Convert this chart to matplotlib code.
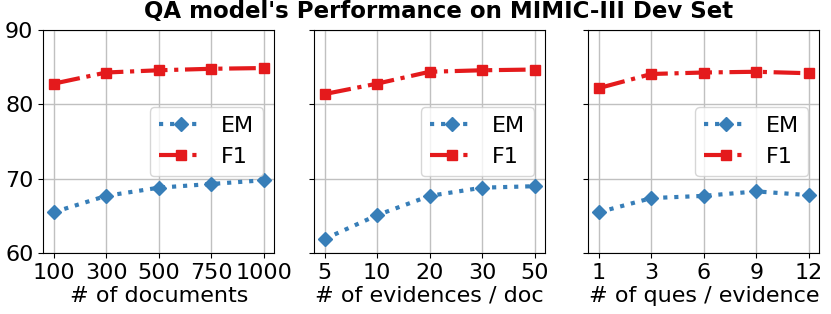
import matplotlib
matplotlib.use("Agg")
import matplotlib.pyplot as plt

# data
doc_labels = ['100', '300', '500', '750', '1000']
doc_em = [65.5, 67.7, 68.8, 69.3, 69.8]
doc_f1 = [82.8, 84.3, 84.6, 84.8, 84.9]

evi_labels = ['5', '10', '20', '30', '50']
evi_em = [61.9, 65.1, 67.7, 68.8, 69.0]
evi_f1 = [81.4, 82.8, 84.4, 84.6, 84.7]

ques_labels = ['1', '3', '6', '9', '12']
ques_em = [65.5, 67.4, 67.7, 68.3, 67.8]
ques_f1 = [82.2, 84.1, 84.3, 84.4, 84.2]

xlabels = ['# of documents', '# of evidences / doc', '# of ques / evidence']

blue = '#377eb8'
red = '#e41a1c'

fig = plt.figure(figsize=(8.31, 3.14), dpi=100)
lefts = [0.052, 0.378, 0.708]
axes = []
for i, l in enumerate(lefts):
    ax = fig.add_axes([l, 0.194, 0.278, 0.710], sharey=axes[0] if axes else None)
    axes.append(ax)

panels = [(doc_labels, doc_em, doc_f1), (evi_labels, evi_em, evi_f1), (ques_labels, ques_em, ques_f1)]
for i, (ax, (labels, em, f1)) in enumerate(zip(axes, panels)):
    xs = list(range(len(labels)))
    ax.plot(xs, em, linestyle=':', color=blue, marker='D', markersize=7, linewidth=3, label='EM')
    ax.plot(xs, f1, linestyle='-.', color=red, marker='s', markersize=7, linewidth=3, label='F1')
    ax.set_xticks(xs)
    ax.set_xticklabels(labels)
    ax.set_ylim(60, 90)
    ax.set_yticks([60, 70, 80, 90])
    ax.grid(True, color='#c0c0c0', linewidth=1)
    ax.set_axisbelow(True)
    ax.tick_params(labelsize=16)
    ax.set_xlabel(xlabels[i], fontsize=16, labelpad=2)
    if i > 0:
        ax.tick_params(labelleft=False)
    ax.legend(loc='center right', fontsize=16)

fig.suptitle("QA model's Performance on MIMIC-III Dev Set", fontsize=16.5, fontweight='bold', x=0.528, y=1.0)
fig.savefig('out.png', dpi=100)
